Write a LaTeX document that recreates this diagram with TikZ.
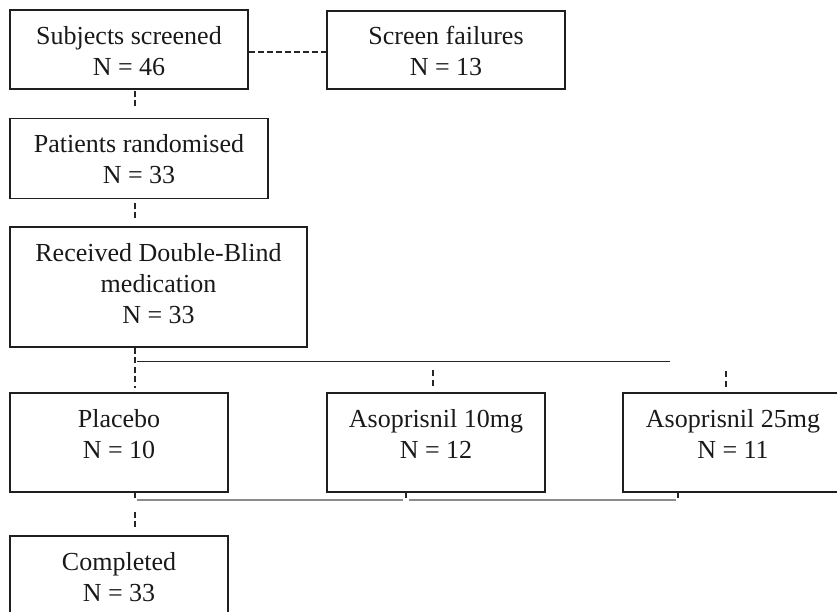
\documentclass[tikz,border=0pt]{standalone}
\usepackage{fontspec}
\setmainfont{Liberation Serif}
\begin{document}
\begin{tikzpicture}[x=1pt,y=-1pt,
  box/.style={draw=black!88, line width=1.6pt, inner sep=0pt, rectangle},
  txt/.style={anchor=north, align=center, inner sep=0pt, text=black!90, font=\fontsize{26}{31}\selectfont},
  vdash/.style={draw=black!85, line width=1.6pt, dash pattern=on 6pt off 3.5pt},
  hdash/.style={draw=black!85, line width=1.5pt, dash pattern=on 6pt off 3pt},
  thinline/.style={draw=black!85, line width=1pt},
  grayline/.style={draw=black!45, line width=1.6pt},
  tick/.style={draw=black!85, line width=1.5pt}]
\useasboundingbox (0,0) rectangle (837,612);
\clip (0,0) rectangle (837,612);
% boxes
\node[box, minimum width=238pt, minimum height=79pt] (b1) at (129,49.5) {};
\node[box, minimum width=238pt, minimum height=78pt] (sf) at (446,50) {};
\node[box, minimum width=258pt, minimum height=80pt] (b2) at (139,158.5) {};
\node[box, minimum width=297pt, minimum height=120pt] (b3) at (158.5,287) {};
\node[box, minimum width=218pt, minimum height=99pt] (pl) at (119,442.5) {};
\node[box, minimum width=218pt, minimum height=99pt] (a10) at (436,442.5) {};
\node[box, minimum width=220pt, minimum height=99pt] (a25) at (733,442.5) {};
\node[box, minimum width=218pt, minimum height=99pt] (co) at (119,585.5) {};
% texts
\node[txt] (t1) at (129,26.5) {Subjects screened\\N = 46};
\node[txt] (tsf) at (446,26) {Screen failures\\N = 13};
\node[txt] (t2) at (139,134.5) {Patients randomised\\N = 33};
\node[txt] (t3) at (158.5,243.5) {Received Double-Blind\\medication\\N = 33};
\node[txt] (tpl) at (119,409.5) {Placebo\\N = 10};
\node[txt] (ta10) at (436,409.5) {Asoprisnil 10mg\\N = 12};
\node[txt] (ta25) at (733,409.5) {Asoprisnil 25mg\\N = 11};
\node[txt] (tco) at (119,552.5) {Completed\\N = 33};
% coordinates
\coordinate (v1) at (135,109);
\coordinate (v2a) at (135,203);
\coordinate (v2) at (135,220);
\coordinate (v3) at (135,388);
\coordinate (v4) at (135,527);
\coordinate (h1) at (137,361);
\coordinate (h2) at (670,361);
\coordinate (d10a) at (433,370);
\coordinate (d10b) at (433,387);
\coordinate (d25a) at (726,371);
\coordinate (d25b) at (726,387);
\coordinate (g1) at (137,500);
\coordinate (g2) at (403,500);
\coordinate (g3) at (409,500);
\coordinate (g4) at (676,500);
\coordinate (k1) at (406,498);
\coordinate (k2) at (678,498);
% connectors
\draw[hdash] ([yshift=-2.5pt]b1.east) -- ([yshift=-2.5pt]b1.east -| sf.west);
\draw[vdash] ([yshift=-1pt]b1.south -| v1) -- (v1);
\draw[vdash] (v2a) -- (v2);
\draw[vdash] (b3.south -| v3) -- (v3);
\draw[thinline] (h1) -- (h2);
\draw[vdash] (d10a) -- (d10b);
\draw[vdash] (d25a) -- (d25b);
\draw[vdash] (pl.south -| v4) -- ++(0,5);
\draw[vdash] (v4) -- ++(0,-18);
\draw[grayline] (g1) -- (g2);
\draw[grayline] (g3) -- (g4);
\draw[tick] (a10.south -| k1) -- (k1);
\draw[tick] (a25.south -| k2) -- (k2);
\end{tikzpicture}
\end{document}
